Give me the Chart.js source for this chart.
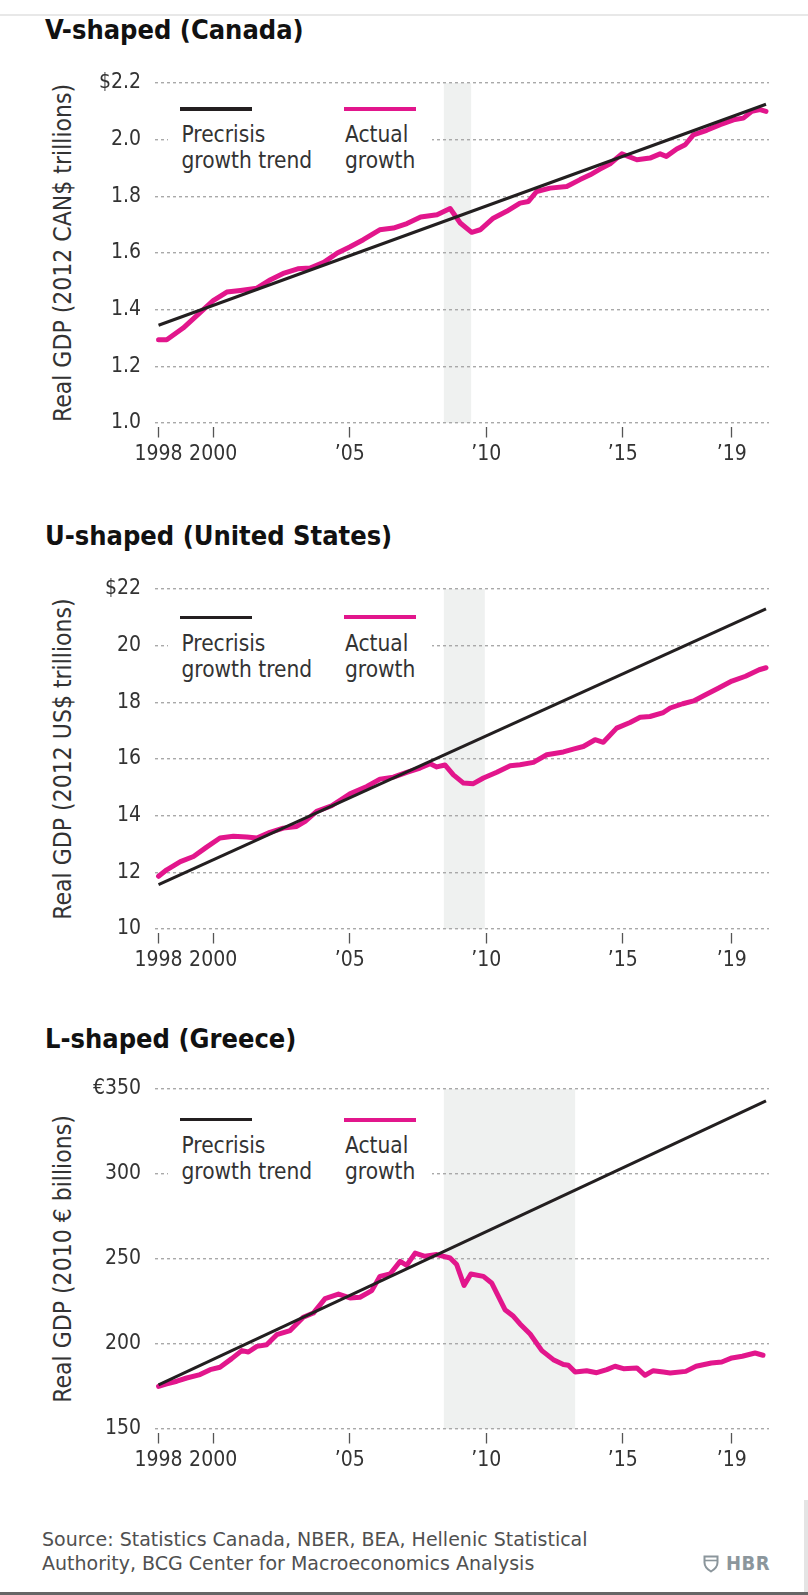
<!DOCTYPE html>
<html>
<head>
<meta charset="utf-8">
<title>V, U and L shaped recoveries</title>
<script src="https://cdn.jsdelivr.net/npm/chart.js@4.4.1/dist/chart.umd.min.js"></script>
<style>
  body { margin: 0; width: 808px; height: 1595px; background: #fff; position: relative; overflow: hidden; }
  .abs { position: absolute; }
  .title { font-family: "DejaVu Sans Condensed", "DejaVu Sans", sans-serif; font-weight: bold; font-size: 27px; line-height: 32px; color: #111; left: 45px; white-space: nowrap; }
  .ytitle { font-family: "DejaVu Sans Condensed", "DejaVu Sans", sans-serif; font-size: 24.5px; line-height: 28px; color: #333; width: 340px; height: 28px; text-align: center; transform: rotate(-90deg); white-space: nowrap; }
  .legbox { background: #fff; left: 168px; width: 264px; height: 92px; }
  .legtxt { font-family: "DejaVu Sans Condensed", "DejaVu Sans", sans-serif; font-size: 22.5px; line-height: 26.7px; color: #333; white-space: nowrap; }
  .source { left: 42px; top: 1527px; font-family: "DejaVu Sans", sans-serif; font-size: 19px; line-height: 24px; color: #505050; white-space: nowrap; }
  .hbr { left: 726px; top: 1551px; font-family: "DejaVu Sans Condensed", "DejaVu Sans", sans-serif; font-weight: bold; font-size: 20px; line-height: 24px; color: #8b969c; letter-spacing: 0.5px; }
</style>
</head>
<body>
<div class="abs" style="left:0;top:14px;width:808px;height:2px;background:#e8e8e8"></div>

<div class="abs source">Source: Statistics Canada, NBER, BEA, Hellenic Statistical<br>Authority, BCG Center for Macroeconomics Analysis</div>
<svg class="abs" style="left:703px;top:1555px" width="16" height="18" viewBox="0 0 16 18">
  <path d="M1.5 1.5 H14.5 V7.5 C14.5 11.5 11.5 14.5 8 16.5 C4.5 14.5 1.5 11.5 1.5 7.5 Z" fill="none" stroke="#8b969c" stroke-width="2"/>
  <path d="M1.5 5.5 H14.5" stroke="#8b969c" stroke-width="1.6"/>
</svg>
<div class="abs hbr">HBR</div>
<div class="abs" style="left:0;top:1592px;width:808px;height:3px;background:#666"></div>
<div class="abs" style="left:804px;top:1500px;width:4px;height:92px;background:#e4e4e4"></div>

<script>
// shared x axis
const xTicks = [1998, 2000, 2005, 2010, 2015, 2019];
const xTickLabels = ['1998', '2000', '\u201905', '\u201910', '\u201915', '\u201919'];

// Canada, 2012 CAN$ trillions
const canadaYears = [1998.0, 1998.3, 1998.9, 1999.5, 2000.0, 2000.5, 2001.0, 2001.6, 2002.1, 2002.6,
  2003.1, 2003.55, 2004.05, 2004.55, 2005.0, 2005.5, 2006.1, 2006.6, 2007.1, 2007.6,
  2008.2, 2008.68, 2009.05, 2009.47, 2009.78, 2010.26, 2010.75, 2011.24, 2011.55, 2011.85,
  2012.34, 2012.95, 2013.44, 2013.81, 2014.17, 2014.54, 2014.97, 2015.52, 2016.0, 2016.37,
  2016.6, 2016.98, 2017.29, 2017.59, 2018.08, 2018.57, 2019.06, 2019.42, 2019.73, 2020.03, 2020.25];
const canadaGdp = [1.294, 1.294, 1.335, 1.388, 1.432, 1.462, 1.468, 1.476, 1.506, 1.529,
  1.544, 1.547, 1.567, 1.600, 1.621, 1.647, 1.682, 1.688, 1.704, 1.727,
  1.735, 1.757, 1.706, 1.673, 1.682, 1.723, 1.747, 1.776, 1.782, 1.817,
  1.829, 1.835, 1.859, 1.876, 1.896, 1.915, 1.950, 1.929, 1.935, 1.950,
  1.941, 1.967, 1.982, 2.017, 2.033, 2.053, 2.070, 2.076, 2.100, 2.106, 2.100];
const canadaTrendYears = [1998.0, 2020.25];
const canadaTrend = [1.345, 2.125];
const canadaRecession = [2008.45, 2009.45];
const canadaTicks = [1.0, 1.2, 1.4, 1.6, 1.8, 2.0, 2.2];
const canadaTickLabels = ['1.0', '1.2', '1.4', '1.6', '1.8', '2.0', '$2.2'];

// United States, 2012 US$ trillions
const usYears = [1998.0, 1998.3, 1998.8, 1999.28, 1999.76, 2000.25, 2000.74, 2001.23, 2001.6, 2002.08,
  2002.57, 2003.06, 2003.37, 2003.79, 2004.34, 2005.01, 2005.63, 2006.11, 2006.6, 2007.09,
  2007.58, 2007.95, 2008.19, 2008.49, 2008.8, 2009.17, 2009.53, 2009.9, 2010.39, 2010.88,
  2011.24, 2011.73, 2012.22, 2012.83, 2013.19, 2013.56, 2013.99, 2014.29, 2014.78, 2015.27,
  2015.64, 2016.0, 2016.49, 2016.74, 2017.2, 2017.6, 2018.0, 2018.5, 2019.0, 2019.5, 2020.0, 2020.25];
const usGdp = [11.86, 12.09, 12.38, 12.56, 12.89, 13.21, 13.27, 13.25, 13.21, 13.41,
  13.56, 13.62, 13.80, 14.15, 14.35, 14.77, 15.03, 15.29, 15.36, 15.53,
  15.68, 15.83, 15.72, 15.79, 15.44, 15.15, 15.13, 15.33, 15.53, 15.76,
  15.80, 15.88, 16.15, 16.25, 16.35, 16.44, 16.68, 16.59, 17.09, 17.29,
  17.47, 17.50, 17.64, 17.80, 17.95, 18.05, 18.25, 18.50, 18.75, 18.92, 19.15, 19.22];
const usTrendYears = [1998.0, 2020.25];
const usTrend = [11.57, 21.3];
const usRecession = [2008.45, 2009.95];
const usTicks = [10, 12, 14, 16, 18, 20, 22];
const usTickLabels = ['10', '12', '14', '16', '18', '20', '$22'];

// Greece, 2010 euro billions
const greeceYears = [1998.0, 1998.3, 1998.67, 1999.03, 1999.52, 1999.89, 2000.25, 2000.68, 2001.05, 2001.29,
  2001.6, 2001.96, 2002.33, 2002.82, 2003.3, 2003.67, 2004.1, 2004.59, 2005.01, 2005.38,
  2005.81, 2006.11, 2006.48, 2006.85, 2007.09, 2007.4, 2007.76, 2008.19, 2008.68, 2008.92,
  2009.19, 2009.44, 2009.9, 2010.2, 2010.69, 2011.0, 2011.24, 2011.61, 2012.04, 2012.46,
  2012.83, 2013.01, 2013.26, 2013.68, 2014.05, 2014.42, 2014.72, 2015.03, 2015.52, 2015.82,
  2016.12, 2016.49, 2016.74, 2017.31, 2017.69, 2018.25, 2018.63, 2019.0, 2019.38, 2019.85, 2020.14];
const greeceGdp = [175.1, 176.5, 178.1, 180.0, 182.0, 184.9, 186.3, 191.4, 196.1, 195.3,
  198.6, 199.6, 205.5, 207.9, 215.7, 218.2, 226.7, 229.4, 227.1, 227.5,
  231.4, 239.8, 241.2, 248.6, 246.3, 253.5, 251.6, 252.6, 250.6, 246.7,
  234.5, 241.2, 239.8, 235.9, 220.2, 216.3, 211.8, 205.9, 196.1, 190.8,
  187.9, 187.5, 183.5, 184.3, 183.1, 184.9, 186.9, 185.5, 185.9, 181.6,
  184.3, 183.5, 182.9, 183.9, 186.9, 188.8, 189.4, 191.8, 192.8, 194.7, 193.4];
const greeceTrendYears = [1998.0, 2020.25];
const greeceTrend = [176, 343];
const greeceRecession = [2008.45, 2013.26];
const greeceTicks = [150, 200, 250, 300, 350];
const greeceTickLabels = ['150', '200', '250', '300', '\u20ac350'];

const MAGENTA = '#e2168c';
const TICK_FONT = { family: '"DejaVu Sans Condensed", "DejaVu Sans", sans-serif', size: 21 };

// grey band for the recession years
const recessionBand = {
  id: 'recession',
  beforeDraw(chart, args, opts) {
    const { ctx, chartArea, scales } = chart;
    const x0 = scales.x.getPixelForValue(opts.from);
    const x1 = scales.x.getPixelForValue(opts.to);
    ctx.save();
    ctx.fillStyle = '#eff1f0';
    ctx.fillRect(x0, chartArea.top, x1 - x0, chartArea.bottom - chartArea.top);
    ctx.restore();
  }
};

function addDiv(cls, style, html) {
  const d = document.createElement('div');
  d.className = 'abs ' + cls;
  d.setAttribute('style', style);
  d.innerHTML = html;
  document.body.appendChild(d);
  return d;
}

function makeChart(c) {
  const T = c.plotTop;
  addDiv('title', 'top:' + (T - c.titleGap) + 'px', c.title);
  addDiv('ytitle', 'left:-107.5px;top:' + (T + 156) + 'px', c.yTitle);

  const box = document.createElement('div');
  box.className = 'abs';
  box.setAttribute('style', 'left:0;top:' + (T - 30) + 'px;width:808px;height:420px');
  const canvas = document.createElement('canvas');
  canvas.width = 808;
  canvas.height = 420;
  box.appendChild(canvas);
  document.body.appendChild(box);

  // legend sits on a white card over the grid
  addDiv('legbox', 'top:' + (T + 12) + 'px', '');
  addDiv('', 'left:179.5px;width:72px;height:3.5px;background:#231f20;top:' + (T + c.legLine - 1.75) + 'px', '');
  addDiv('', 'left:344px;width:72px;height:4px;background:' + MAGENTA + ';top:' + (T + c.legLine - 2) + 'px', '');
  addDiv('legtxt', 'left:181.5px;top:' + (T + c.legText - 21) + 'px', 'Precrisis<br>growth trend');
  addDiv('legtxt', 'left:345px;top:' + (T + c.legText - 21) + 'px', 'Actual<br>growth');

  new Chart(canvas, {
    type: 'line',
    data: {
      datasets: [
        {
          label: 'Precrisis growth trend',
          data: c.trendYears.map((x, i) => ({ x: x, y: c.trend[i] })),
          borderColor: '#231f20',
          borderWidth: 3,
          pointRadius: 0
        },
        {
          label: 'Actual growth',
          data: c.years.map((x, i) => ({ x: x, y: c.gdp[i] })),
          borderColor: MAGENTA,
          borderWidth: 5,
          borderJoinStyle: 'round',
          borderCapStyle: 'round',
          pointRadius: 0
        }
      ]
    },
    options: {
      responsive: false,
      animation: false,
      layout: { padding: { top: 30, right: 39, bottom: 0, left: 0 } },
      plugins: {
        legend: { display: false },
        tooltip: { enabled: false },
        recession: { from: c.recession[0], to: c.recession[1] }
      },
      scales: {
        x: {
          type: 'linear',
          min: 1997.87,
          max: 2020.36,
          afterBuildTicks: s => { s.ticks = xTicks.map(v => ({ value: v })); },
          afterFit: s => { s.height = 50; },
          border: { display: false },
          grid: {
            drawOnChartArea: false,
            drawTicks: true,
            tickLength: 14.5,
            tickColor: '#555',
            tickWidth: 1.3,
            tickBorderDash: [0, 4, 10.5, 40]
          },
          ticks: {
            autoSkip: false,
            maxRotation: 0,
            padding: 4.5,
            color: '#333',
            font: TICK_FONT,
            callback: (v, i) => xTickLabels[i]
          }
        },
        y: {
          min: c.ticks[0],
          max: c.ticks[c.ticks.length - 1],
          afterBuildTicks: s => { s.ticks = c.ticks.map(v => ({ value: v })); },
          afterFit: s => { s.width = 155; },
          border: { display: false, dash: [3, 3] },
          grid: { color: '#a9a9a9', lineWidth: 1.4, drawTicks: false },
          ticks: {
            padding: 14,
            color: '#333',
            font: TICK_FONT,
            callback: (v, i) => c.tickLabels[i]
          }
        }
      }
    },
    plugins: [recessionBand]
  });
}

makeChart({
  title: 'V-shaped (Canada)', yTitle: 'Real GDP (2012 CAN$ trillions)', plotTop: 83.3, titleGap: 69.1,
  legLine: 25.7, legText: 58.4,
  years: canadaYears, gdp: canadaGdp, trendYears: canadaTrendYears, trend: canadaTrend,
  recession: canadaRecession, ticks: canadaTicks, tickLabels: canadaTickLabels
});
makeChart({
  title: 'U-shaped (United States)', yTitle: 'Real GDP (2012 US$ trillions)', plotTop: 589.3, titleGap: 69.7,
  legLine: 28, legText: 61.4,
  years: usYears, gdp: usGdp, trendYears: usTrendYears, trend: usTrend,
  recession: usRecession, ticks: usTicks, tickLabels: usTickLabels
});
makeChart({
  title: 'L-shaped (Greece)', yTitle: 'Real GDP (2010 \u20ac billions)', plotTop: 1088.5, titleGap: 65.8,
  legLine: 31.2, legText: 64.2,
  years: greeceYears, gdp: greeceGdp, trendYears: greeceTrendYears, trend: greeceTrend,
  recession: greeceRecession, ticks: greeceTicks, tickLabels: greeceTickLabels
});
</script>
</body>
</html>
